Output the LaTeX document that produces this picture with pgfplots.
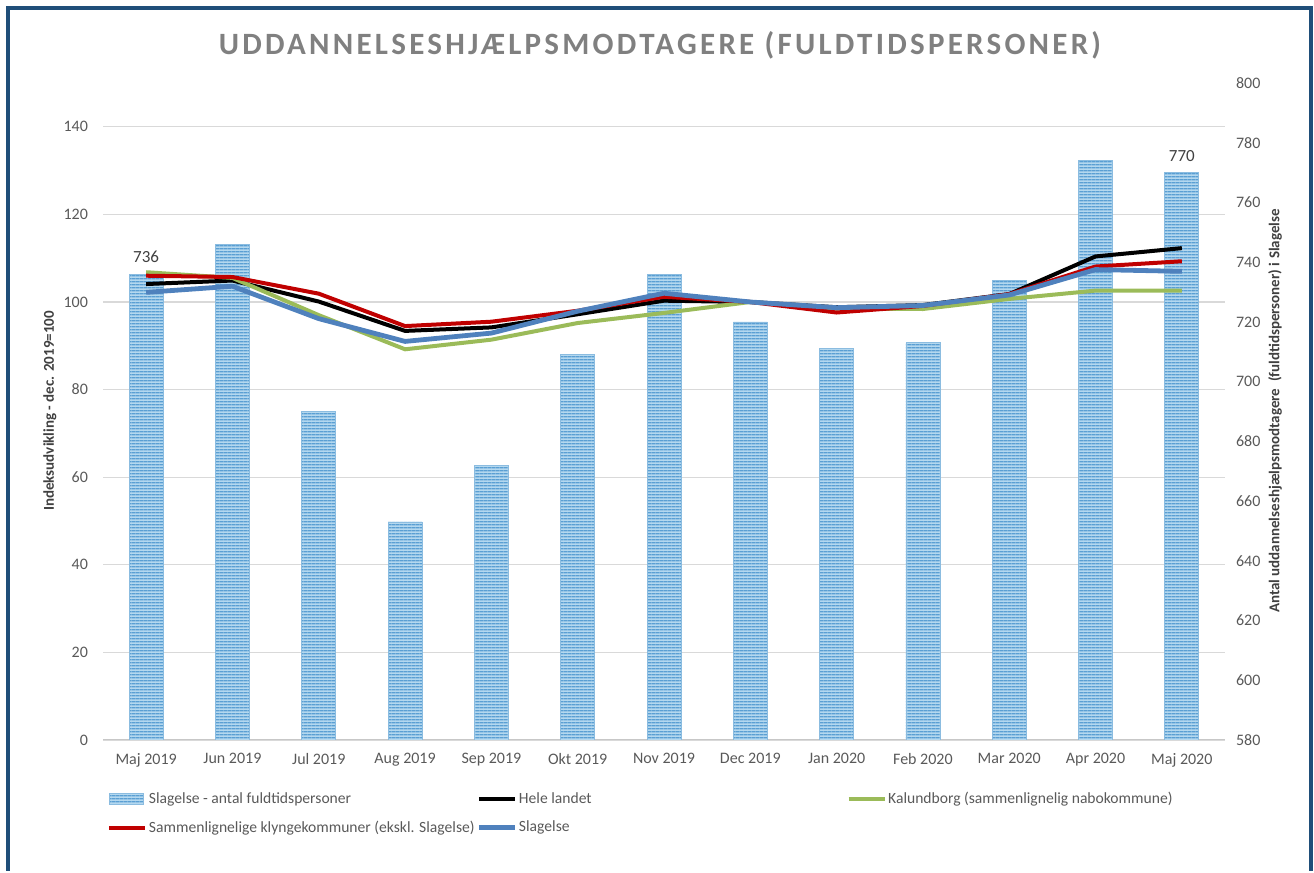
\documentclass[border=0pt]{standalone}
\usepackage{pgfplots}
\pgfplotsset{compat=1.18}
\usepackage{fontspec}
\setmainfont{Carlito}
\usetikzlibrary{patterns.meta}
\definecolor{framecol}{HTML}{1F4E79}
\definecolor{titlecol}{HTML}{808080}
\definecolor{tickcol}{HTML}{595959}
\definecolor{labcol}{HTML}{404040}
\definecolor{gridcol}{HTML}{D9D9D9}
\definecolor{barfill}{HTML}{B4D8EF}
\definecolor{barline}{HTML}{5A9FD3}
\definecolor{redc}{HTML}{C00000}
\definecolor{greenc}{HTML}{9BBB59}
\definecolor{bluec}{HTML}{4F81BD}
\tikzdeclarepattern{
  name=hstripes,
  type=uncolored,
  bounding box={(0pt,0pt) and (2pt,1.6pt)},
  tile size={(2pt,1.6pt)},
  code={\draw[line width=0.8pt] (-0.2pt,0.8pt) -- (2.2pt,0.8pt);}
}
\pgfplotsset{
  base/.style={
    scale only axis, width=561pt, height=328.5pt,
    at={(51.5pt,65.5pt)}, anchor=south west,
    xmin=-0.5, xmax=12.5,
    /pgf/number format/assume math mode=true,
    tick style={draw=none},
    ticklabel style={font=\fontsize{8}{9.6}\selectfont, text=tickcol},
  }
}
\begin{document}
\begin{tikzpicture}[x=1pt,y=1pt]
\path (0,0) rectangle (657,435.5);
\draw[framecol, line width=1.6pt] (4,0) -- (4,431.5) -- (655.5,431.5) -- (655.5,0);
\node[text=titlecol, font=\fontsize{15.5}{18}\selectfont\bfseries\addfontfeatures{LetterSpace=10.5}] at (330,413) {UDDANNELSESHJÆLPSMODTAGERE (FULDTIDSPERSONER)};
% axis A: left scale, grid, x labels
\begin{axis}[base,
  ymin=0, ymax=150, ytick={0,20,...,140},
  ymajorgrids, grid style={gridcol, line width=0.6pt},
  axis line style={draw=none},
  xtick={0,...,12},
  xticklabels={Maj 2019,Jun 2019,Jul 2019,Aug 2019,Sep 2019,Okt 2019,Nov 2019,Dec 2019,Jan 2020,Feb 2020,Mar 2020,Apr 2020,Maj 2020},
  xticklabel style={yshift=-3pt},
  yticklabel style={xshift=-4pt},
]
\addplot[draw=none] coordinates {(0,0) (12,0)};
\draw[gridcol!80!gray, line width=1pt] (axis cs:-0.5,0) -- (axis cs:12.5,0);
\end{axis}
% axis B: bars, right scale
\begin{axis}[base,
  axis line style={draw=none},
  ymin=580, ymax=800, ytick={580,600,...,800},
  axis y line*=right, axis x line=none,
  yticklabel style={xshift=2pt},
  ybar, bar width=17pt,
  nodes near coords, point meta=explicit symbolic,
  every node near coord/.append style={font=\fontsize{8.5}{10}\selectfont, text=labcol, yshift=2pt},
]
\addplot[fill=barfill, draw=barline!70!white, line width=0.4pt,
  postaction={pattern=hstripes, pattern color=barline}]
coordinates {
(0,736) [736]
(1,746) []
(2,690) []
(3,653) []
(4,672) []
(5,709) []
(6,736) []
(7,720) []
(8,711) []
(9,713) []
(10,734) []
(11,774) []
(12,770) [770]
};
\end{axis}
% axis C: lines, left scale
\begin{axis}[base,
  ymin=0, ymax=150, axis lines=none,
  legend columns=3,
  legend image code/.code={\draw[#1] (0pt,0pt) -- (18pt,0pt);},
  legend style={at={(0,0)}, anchor=north west, yshift=-23pt, xshift=-1pt,
    draw=none, fill=none, font=\fontsize{7.8}{9.4}\selectfont, text=tickcol,
    row sep=5.5pt, nodes={inner sep=0.8pt}},
  legend cell align=left,
]
\addlegendimage{legend image code/.code={\draw[fill=barfill, draw=barline!70!white, postaction={pattern=hstripes, pattern color=barline}] (0pt,-2.8pt) rectangle (17pt,2.8pt);}}
\addlegendentry{\makebox[163pt][l]{Slagelse - antal fuldtidspersoner}}
\addplot[black, line width=2pt] coordinates {
(0,104.1) (1,104.9) (2,100.1) (3,93.4) (4,94.2) (5,97.2) (6,100.3) (7,100) (8,98.8) (9,99.3) (10,101.8) (11,110.4) (12,112.3)};
\addlegendentry{\makebox[163pt][l]{Hele landet}}
\addplot[greenc, line width=2pt] coordinates {
(0,106.8) (1,105.5) (2,97.0) (3,89.2) (4,91.4) (5,95.2) (6,97.5) (7,100) (8,98.5) (9,98.4) (10,100.7) (11,102.6) (12,102.6)};
\addlegendentry{Kalundborg (sammenlignelig nabokommune)}
\addplot[redc, line width=2pt] coordinates {
(0,106.0) (1,105.7) (2,101.9) (3,94.5) (4,95.5) (5,98.0) (6,101.2) (7,100) (8,97.6) (9,99.1) (10,101.8) (11,108.1) (12,109.3)};
\addlegendentry{\makebox[163pt][l]{Sammenlignelige klyngekommuner (ekskl. Slagelse)}}
\addplot[bluec, line width=2.4pt] coordinates {
(0,102.2) (1,103.6) (2,96.2) (3,91.0) (4,92.9) (5,97.9) (6,102.0) (7,100) (8,98.7) (9,99.2) (10,101.6) (11,107.4) (12,107.0)};
\addlegendentry{Slagelse}
\end{axis}
\node[rotate=90, text=labcol, font=\fontsize{7.5}{9}\selectfont\bfseries] at (25,230) {Indeksudvikling - dec. 2019=100};
\node[rotate=90, text=labcol, font=\fontsize{7.5}{9}\selectfont\bfseries] at (637.5,230) {Antal uddannelseshjælpsmodtagere \ (fuldtidspersoner) i Slagelse};
\end{tikzpicture}
\end{document}
